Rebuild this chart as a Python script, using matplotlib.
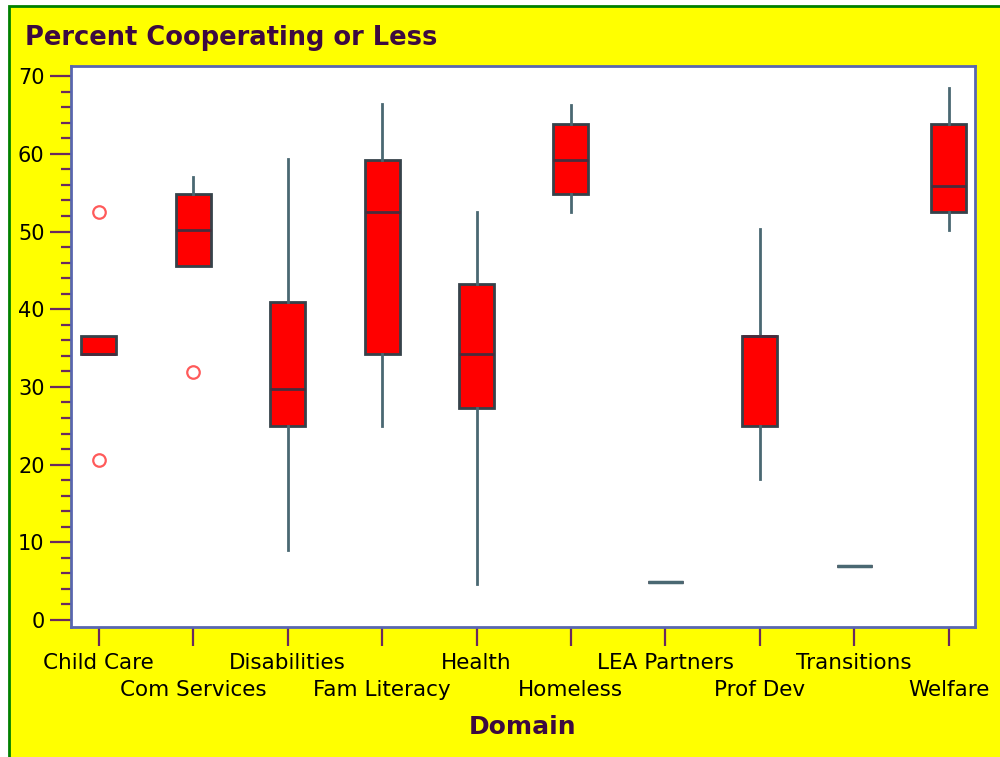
import matplotlib
matplotlib.use("Agg")
import matplotlib.pyplot as plt
from matplotlib.patches import Rectangle
from matplotlib.ticker import MultipleLocator


# =========================
# DATA (percent cooperating or less, per domain)
# =========================
domains = ["Child Care", "Com Services", "Disabilities", "Fam Literacy", "Health",
           "Homeless", "LEA Partners", "Prof Dev", "Transitions", "Welfare"]

whisker_lo = [34.2, 45.6, 9.0, 25.0, 4.6, 52.5, 4.9, 18.2, 7.0, 50.2]
q1 = [34.2, 45.6, 25.0, 34.3, 27.3, 54.8, 4.9, 25.0, 7.0, 52.5]
median = [34.2, 50.2, 29.7, 52.5, 34.2, 59.2, 4.9, 36.6, 7.0, 55.8]
q3 = [36.6, 54.8, 40.9, 59.2, 43.3, 63.8, 4.9, 36.6, 7.0, 63.9]
whisker_hi = [36.6, 57.0, 59.3, 66.4, 52.5, 66.3, 4.9, 50.3, 7.0, 68.5]
outliers = [[52.5, 20.6], [31.9], [], [], [], [], [], [], [], []]


# =========================
# COLOURS
# =========================
bg_yellow = "#ffff00"
frame_green = "#008000"
title_purple = "#3c0a40"
tick_purple = "#6a2a5e"
spine_blue = "#5866b0"
box_red = "#ff0000"
box_edge = "#36424a"
median_col = "#4a2c3c"
whisker_col = "#4a6872"
outlier_col = "#ff5a5a"

plt.rcParams["font.family"] = ["DejaVu Sans"]

fig = plt.figure(figsize=(10, 7.57), dpi=100)
fig.patch.set_facecolor("white")

# yellow panel with green frame (runs off the right and bottom edges)
fig.patches.append(Rectangle((0.009, -0.05), 1.1, 1 - 0.008 + 0.05,
                             transform=fig.transFigure, facecolor=bg_yellow,
                             edgecolor=frame_green, linewidth=2, zorder=-10))

ax = fig.add_axes([0.071, 0.1717, 0.904, 0.7411])
ax.set_facecolor("white")

stats = []
for i, name in enumerate(domains):
    stats.append({
        "label": name,
        "whislo": whisker_lo[i],
        "q1": q1[i],
        "med": median[i],
        "q3": q3[i],
        "whishi": whisker_hi[i],
        "fliers": outliers[i],
    })

positions = list(range(1, len(domains) + 1))
ax.bxp(
    stats,
    positions=positions,
    widths=0.37,
    patch_artist=True,
    showcaps=False,
    boxprops=dict(facecolor=box_red, edgecolor=box_edge, linewidth=2),
    medianprops=dict(color=median_col, linewidth=2),
    whiskerprops=dict(color=whisker_col, linewidth=2),
    flierprops=dict(marker="o", markersize=9, markerfacecolor="none",
                    markeredgecolor=outlier_col, markeredgewidth=1.6),
)

# flat boxes (single value) drawn in whisker colour
for i in range(len(domains)):
    if q1[i] == q3[i] and whisker_lo[i] == whisker_hi[i]:
        ax.hlines(median[i], positions[i] - 0.185, positions[i] + 0.185,
                  color=whisker_col, linewidth=2.5, zorder=5)

ax.set_xlim(0.705, 10.28)
ax.set_ylim(-0.9, 71.3)

ax.yaxis.set_major_locator(MultipleLocator(10))
ax.yaxis.set_minor_locator(MultipleLocator(2))
ax.tick_params(axis="y", which="major", length=15, width=1.6, color=tick_purple,
               labelsize=15, pad=4)
ax.tick_params(axis="y", which="minor", length=7, width=1.6, color=tick_purple)
ax.tick_params(axis="x", which="major", length=14, width=1.6, color=tick_purple,
               labelsize=15.5)

ax.set_xticks(positions)
ax.set_xticklabels(domains)
for i, tick in enumerate(ax.xaxis.get_major_ticks()):
    tick.set_pad(5 if i % 2 == 0 else 24)

for sp in ax.spines.values():
    sp.set_color(spine_blue)
    sp.set_linewidth(2)

fig.text(0.025, 0.9498, "Percent Cooperating or Less", fontsize=18.5,
         fontweight="bold", color=title_purple, ha="left", va="center")
fig.text(0.523, 1 - 727 / 757, "Domain", fontsize=18, fontweight="bold",
         color=title_purple, ha="center", va="center")

fig.savefig("out.png", dpi=100, facecolor=fig.get_facecolor())
